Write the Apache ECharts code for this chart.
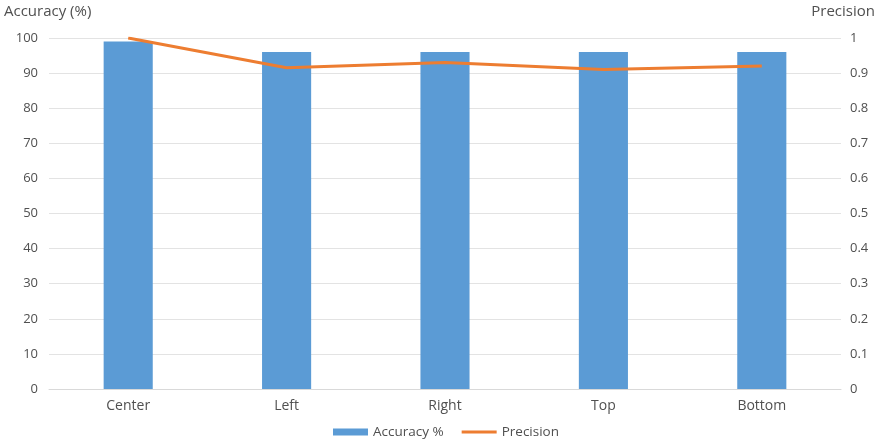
<!DOCTYPE html>
<html>
<head>
<meta charset="utf-8">
<script src="https://cdn.jsdelivr.net/npm/echarts@6/dist/echarts.min.js"></script>
<style>
  html, body { margin: 0; padding: 0; background: #fff; }
  #chart { width: 880px; height: 446px; }
</style>
</head>
<body>
<div id="chart"></div>
<script>
// Positions along the detection view
const categories = ['Center', 'Left', 'Right', 'Top', 'Bottom'];
// Accuracy in percent (left axis)
const accuracy = [99, 96, 96, 96, 96];
// Precision as a fraction (right axis)
const precision = [1.0, 0.915, 0.93, 0.91, 0.92];

const textColor = '#505050';
const fontFamily = '"Open Sans", Lato, sans-serif';

const chart = echarts.init(document.getElementById('chart'));
chart.setOption({
  animation: false,
  textStyle: { fontFamily: fontFamily, color: textColor },
  grid: { left: 49, right: 39, top: 38, bottom: 57 },
  legend: {
    bottom: 2,
    left: 328,
    itemWidth: 35,
    itemHeight: 7,
    itemGap: 18,
    itemStyle: { borderWidth: 0 },
    textStyle: { color: textColor, fontSize: 13.5, fontFamily: fontFamily },
    data: [
      { name: 'Accuracy %', icon: 'rect' },
      { name: 'Precision', icon: 'path://M0,0 L35,0 L35,3 L0,3 Z',
        itemStyle: { color: '#ED7D31' } }
    ]
  },
  graphic: [
    { type: 'text', left: 4, top: 4,
      style: { text: 'Accuracy (%)', fill: textColor, font: '15px ' + fontFamily } },
    { type: 'text', right: 5, top: 4,
      style: { text: 'Precision', fill: textColor, font: '15px ' + fontFamily } }
  ],
  xAxis: {
    type: 'category',
    data: categories,
    axisTick: { show: false },
    axisLine: { show: true, lineStyle: { color: '#d9d9d9' } },
    axisLabel: { color: textColor, fontSize: 14, margin: 10 }
  },
  yAxis: [
    {
      type: 'value', min: 0, max: 100, interval: 10,
      axisLine: { show: false }, axisTick: { show: false },
      splitLine: { lineStyle: { color: '#e3e3e3' } },
      axisLabel: { color: textColor, fontSize: 13, margin: 11 }
    },
    {
      type: 'value', min: 0, max: 1, interval: 0.1,
      axisLine: { show: false }, axisTick: { show: false },
      splitLine: { show: false },
      axisLabel: {
        color: textColor, fontSize: 13, margin: 9,
        formatter: v => String(Math.round(v * 10) / 10)
      }
    }
  ],
  series: [
    {
      name: 'Accuracy %',
      type: 'bar',
      data: accuracy,
      barWidth: '31%',
      itemStyle: { color: '#5B9BD5' }
    },
    {
      name: 'Precision',
      type: 'line',
      yAxisIndex: 1,
      data: precision,
      showSymbol: false,
      symbol: 'none',
      lineStyle: { color: '#ED7D31', width: 3 },
      itemStyle: { color: '#ED7D31' }
    }
  ]
});
</script>
</body>
</html>
